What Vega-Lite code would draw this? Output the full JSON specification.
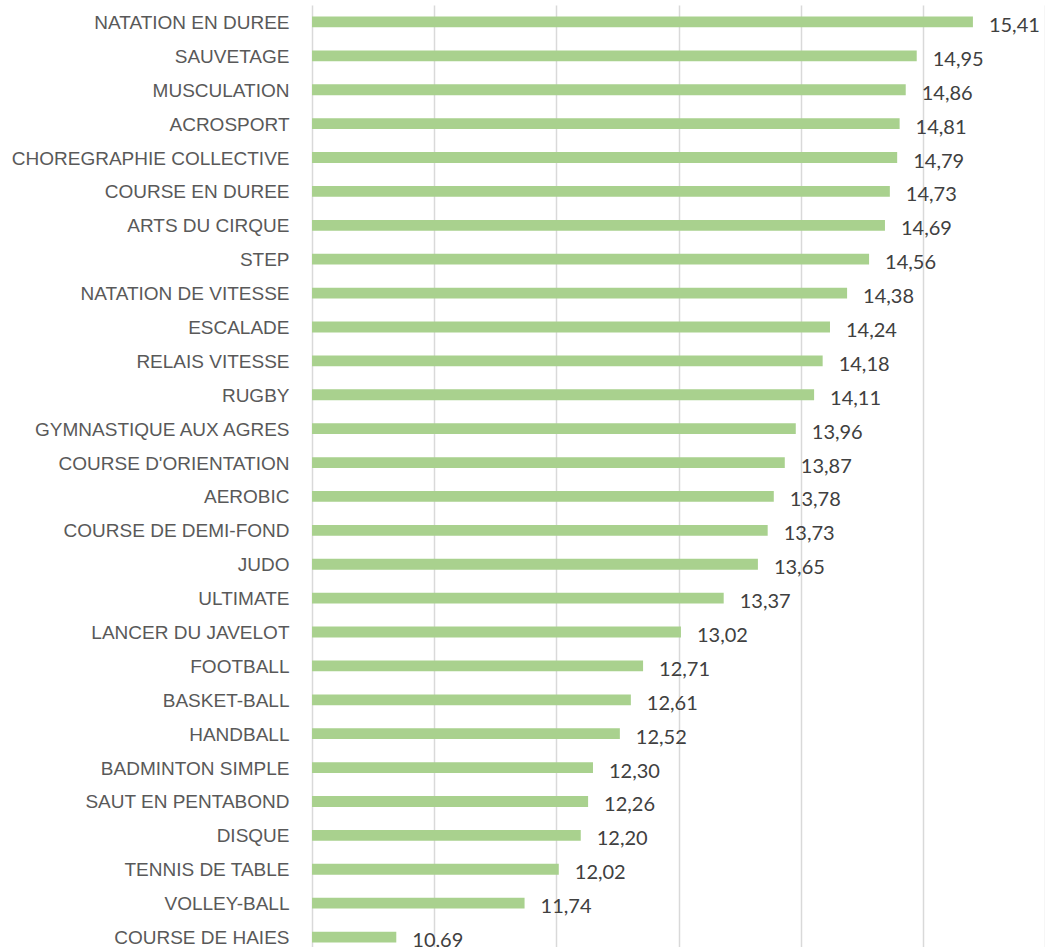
{
  "$schema": "https://vega.github.io/schema/vega-lite/v6.json",
  "autosize": "none",
  "width": 733,
  "height": 949,
  "padding": {"left": 312, "top": 5, "right": 0, "bottom": 0},
  "background": "white",
  "config": {
    "view": {"stroke": null},
    "locale": {"number": {"decimal": ",", "thousands": " ", "grouping": [3], "currency": ["", " €"]}},
    "font": "Lato"
  },
  "data": {
    "values": [
      {"sport": "NATATION EN DUREE", "note": 15.41},
      {"sport": "SAUVETAGE", "note": 14.95},
      {"sport": "MUSCULATION", "note": 14.86},
      {"sport": "ACROSPORT", "note": 14.81},
      {"sport": "CHOREGRAPHIE COLLECTIVE", "note": 14.79},
      {"sport": "COURSE EN DUREE", "note": 14.73},
      {"sport": "ARTS DU CIRQUE", "note": 14.69},
      {"sport": "STEP", "note": 14.56},
      {"sport": "NATATION DE VITESSE", "note": 14.38},
      {"sport": "ESCALADE", "note": 14.24},
      {"sport": "RELAIS VITESSE", "note": 14.18},
      {"sport": "RUGBY", "note": 14.11},
      {"sport": "GYMNASTIQUE AUX AGRES", "note": 13.96},
      {"sport": "COURSE D'ORIENTATION", "note": 13.87},
      {"sport": "AEROBIC", "note": 13.78},
      {"sport": "COURSE DE DEMI-FOND", "note": 13.73},
      {"sport": "JUDO", "note": 13.65},
      {"sport": "ULTIMATE", "note": 13.37},
      {"sport": "LANCER DU JAVELOT", "note": 13.02},
      {"sport": "FOOTBALL", "note": 12.71},
      {"sport": "BASKET-BALL", "note": 12.61},
      {"sport": "HANDBALL", "note": 12.52},
      {"sport": "BADMINTON SIMPLE", "note": 12.30},
      {"sport": "SAUT EN PENTABOND", "note": 12.26},
      {"sport": "DISQUE", "note": 12.20},
      {"sport": "TENNIS DE TABLE", "note": 12.02},
      {"sport": "VOLLEY-BALL", "note": 11.74},
      {"sport": "COURSE DE HAIES", "note": 10.69}
    ]
  },
  "encoding": {
    "y": {
      "field": "sport",
      "type": "nominal",
      "sort": null,
      "scale": {"paddingInner": 0.68, "paddingOuter": 0.34},
      "axis": {
        "title": null,
        "domain": false,
        "ticks": false,
        "labelPadding": 23,
        "labelFontSize": 19,
        "labelColor": "#595959",
        "labelFont": "Liberation Sans",
        "labelLimit": 400,
        "labelOffset": 1
      }
    },
    "x": {
      "field": "note",
      "type": "quantitative",
      "scale": {"domain": [10, 16], "nice": false, "zero": false},
      "axis": {
        "title": null,
        "labels": false,
        "ticks": false,
        "domain": false,
        "values": [10, 11, 12, 13, 14, 15, 16],
        "grid": true,
        "gridColor": "#d9d9d9",
        "gridWidth": 1.5
      }
    }
  },
  "layer": [
    {"mark": {"type": "bar", "color": "#a9d18e", "clip": true}},
    {
      "mark": {"type": "text", "align": "left", "baseline": "middle", "dx": 16, "dy": 4, "fontSize": 20, "color": "#404040", "font": "Lato"},
      "encoding": {"text": {"field": "note", "type": "quantitative", "format": ".2f"}}
    }
  ]
}
